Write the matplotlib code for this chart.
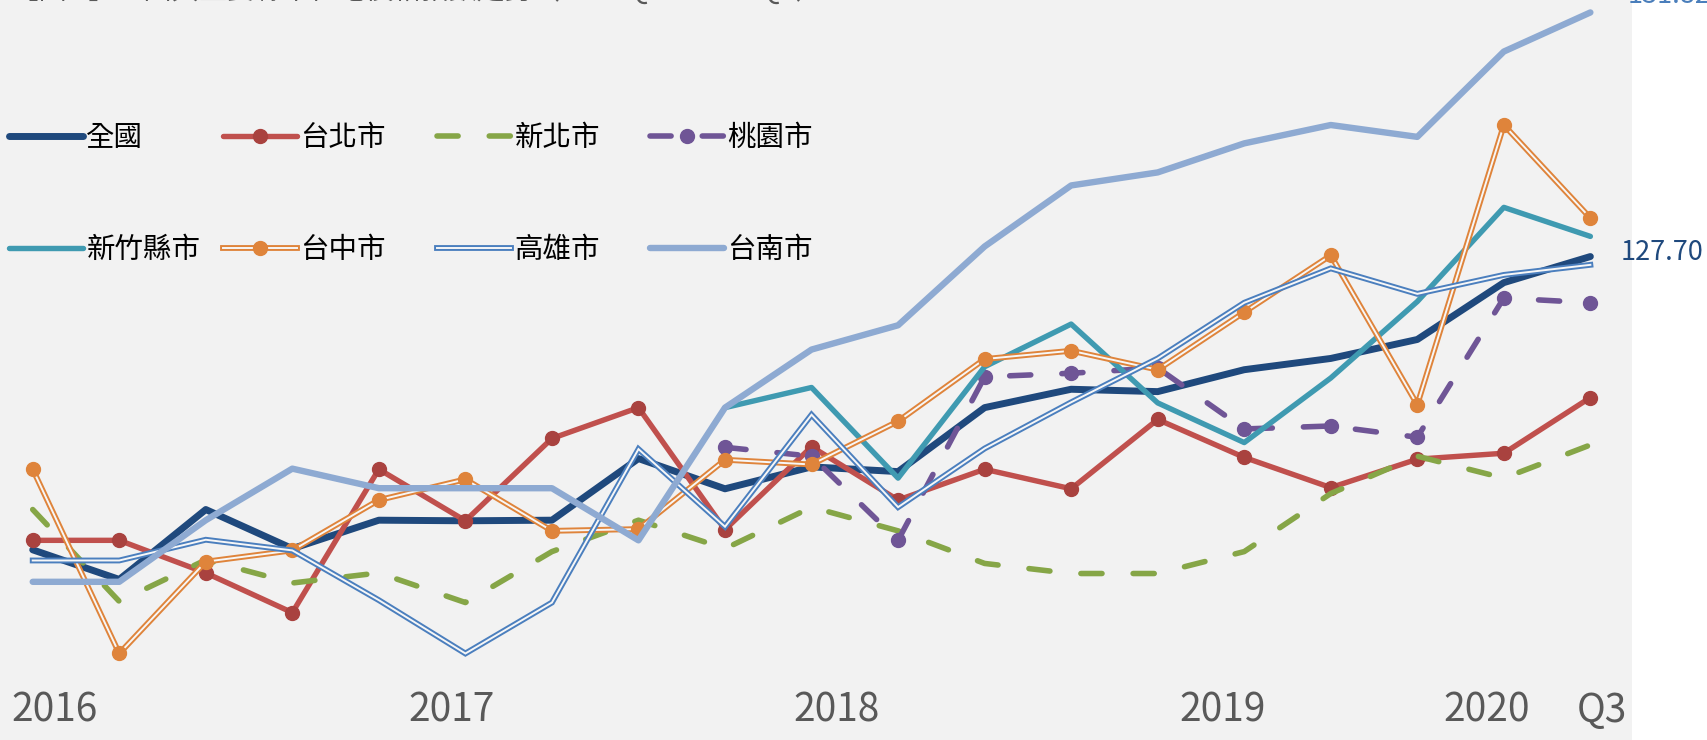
import numpy as np
import matplotlib
matplotlib.use("Agg")
import matplotlib.pyplot as plt
from matplotlib.legend_handler import HandlerTuple

plt.rcParams['font.family'] = ['Noto Sans CJK TC', 'DejaVu Sans']

# 2016Q1 ~ 2020Q3
quarters = ['2016Q1', '2016Q2', '2016Q3', '2016Q4',
            '2017Q1', '2017Q2', '2017Q3', '2017Q4',
            '2018Q1', '2018Q2', '2018Q3', '2018Q4',
            '2019Q1', '2019Q2', '2019Q3', '2019Q4',
            '2020Q1', '2020Q2', '2020Q3']

national = [122.75, 122.25, 123.43, 122.77, 123.25, 123.24, 123.25, 124.29, 123.78, 124.15,
            124.07, 125.15, 125.46, 125.42, 125.79, 125.98, 126.30, 127.26, 127.70]
taipei = [122.91, 122.91, 122.36, 121.69, 124.11, 123.24, 124.63, 125.15, 123.09, 124.49,
          123.59, 124.11, 123.78, 124.95, 124.31, 123.80, 124.28, 124.38, 125.32]
new_taipei = [123.43, 121.88, 122.58, 122.19, 122.36, 121.86, 122.72, 123.25, 122.77, 123.47,
              123.07, 122.52, 122.35, 122.35, 122.72, 123.70, 124.33, 123.96, 124.52]
taoyuan = [None, None, None, None, None, None, None, None, 124.48, 124.33,
           122.91, 125.67, 125.73, 125.82, 124.79, 124.84, 124.65, 127.00, 126.92]
hsinchu = [None, None, None, None, None, None, None, None, 125.15, 125.49,
           123.96, 125.84, 126.56, 125.23, 124.56, 125.65, 126.94, 128.53, 128.04]
taichung = [124.11, 121.00, 122.55, 122.74, 123.59, 123.94, 123.07, 123.10, 124.27, 124.19,
            124.92, 125.97, 126.11, 125.79, 126.76, 127.72, 125.20, 129.92, 128.35]
kaohsiung = [122.57, 122.57, 122.92, 122.74, 121.90, 121.00, 121.86, 124.45, 123.14, 125.03,
             123.47, 124.46, 125.24, 125.98, 126.92, 127.50, 127.07, 127.39, 127.56]
tainan = [122.21, 122.21, 123.25, 124.12, 123.79, 123.79, 123.79, 122.91, 125.15, 126.13,
          126.54, 127.87, 128.90, 129.12, 129.61, 129.92, 129.72, 131.16, 131.82]

year_labels = ['2016', '2017', '2018', '2019', '2020', 'Q3']
title = '【圖 1】全國與主要縣市住宅價格指數走勢（2016 Q1 ~ 2020 Q3）'

W, H = 1708, 740
fig = plt.figure(figsize=(W / 100, H / 100), dpi=100, facecolor='white')
ax = fig.add_axes([0, 0, 1632 / W, 1])
ax.set_facecolor('#f2f2f2')
for s in ax.spines.values():
    s.set_visible(False)
ax.set_xticks([])
ax.set_yticks([])
ax.set_xlim(-0.378, 18.481)
ax.set_ylim(119.54, 132.03)

x = np.arange(len(quarters))
arr = lambda v: np.array([np.nan if a is None else a for a in v], dtype=float)

dash = (3.8, 5.6)
rnd = dict(solid_capstyle='round', solid_joinstyle='round')
handles = []

# 全國
l, = ax.plot(x, arr(national), color='#1f497d', lw=5, **rnd)
handles.append((l, '全國'))
# 台北市
l, = ax.plot(x, arr(taipei), color='#c0504d', lw=3.9, marker='o', ms=10, mfc='#a9423f', mec='#a9423f', **rnd)
handles.append((l, '台北市'))
# 新北市
l, = ax.plot(x, arr(new_taipei), color='#86a647', lw=4, dashes=dash, dash_capstyle='round',
             dash_joinstyle='round')
handles.append((l, '新北市'))
# 桃園市
l, = ax.plot(x, arr(taoyuan), color='#6f5596', lw=4, dashes=dash, dash_capstyle='round',
             dash_joinstyle='round', marker='o', ms=10)
handles.append((l, '桃園市'))
# 新竹縣市
l, = ax.plot(x, arr(hsinchu), color='#3f9ab1', lw=3.9, **rnd)
handles.append((l, '新竹縣市'))
# 台中市 (double line)
a1, = ax.plot(x, arr(taichung), color='#df843b', lw=4.2, solid_joinstyle='miter')
a2, = ax.plot(x, arr(taichung), color='#f7f7f7', lw=1.4, solid_joinstyle='miter')
a3, = ax.plot(x, arr(taichung), color='#df843b', ls='none', marker='o', ms=10)
handles.append(((a1, a2, a3), '台中市'))
# 高雄市 (double line)
b1, = ax.plot(x, arr(kaohsiung), color='#4b7fbe', lw=4.2, solid_joinstyle='miter')
b2, = ax.plot(x, arr(kaohsiung), color='#f7f7f7', lw=1.4, solid_joinstyle='miter')
handles.append(((b1, b2), '高雄市'))
# 台南市
l, = ax.plot(x, arr(tainan), color='#8eaad2', lw=4.6, **rnd)
handles.append((l, '台南市'))

# legend: 2 rows x 4 columns, placed entry by entry
col_x = [9, 223, 437, 650]
row_y = [138, 250]
for i, (h, lab) in enumerate(handles):
    r, c = divmod(i, 4)
    fig.legend([h], [lab], loc='center left', bbox_to_anchor=(col_x[c] / W, 1 - row_y[r] / H),
               frameon=False, fontsize=20.5, handlelength=2.6, handletextpad=0.12,
               borderpad=0, borderaxespad=0,
               handler_map={tuple: HandlerTuple(ndivide=1, pad=0)})

# end labels
ax.annotate(f'{national[-1]:.2f}', xy=(x[-1], national[-1]), xytext=(22, -2.5),
            textcoords='offset points', ha='left', va='baseline', fontsize=19.5,
            color='#1f497d', annotation_clip=False)
ax.annotate(f'{tainan[-1]:.2f}', xy=(x[-1], tainan[-1]), xytext=(27, 6.7),
            textcoords='offset points', ha='left', va='baseline', fontsize=19.5,
            color='#4a7ebb', annotation_clip=False)

# year labels along the bottom
label_px = [54.5, 452, 837, 1223, 1487, 1602]
for lab, px in zip(year_labels, label_px):
    fig.text(px / W, 1 - 721.7 / H, lab, ha='center', va='baseline', fontsize=28, color='#595959')

# title (mostly above the visible area, as in the original crop)
fig.text(11 / W, 1 - 7 / H, title, ha='left', va='bottom', fontsize=20, color='#595959')

fig.savefig('out.png', dpi=100, facecolor='white')
